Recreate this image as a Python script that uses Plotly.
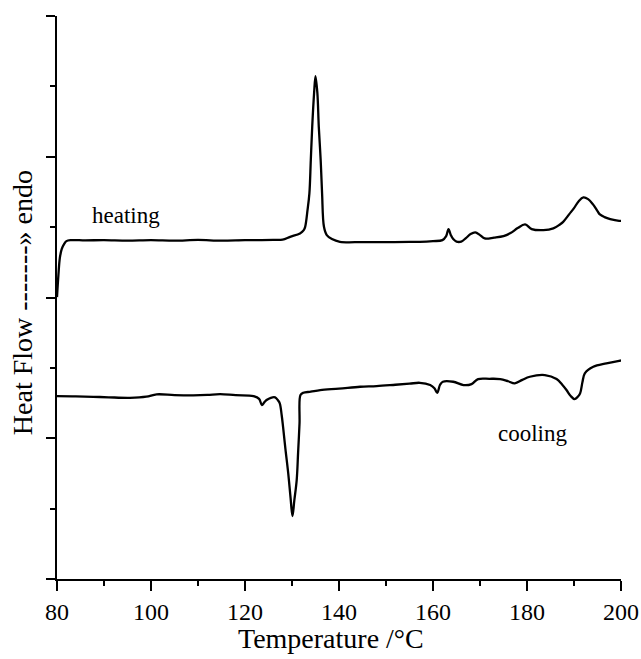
import plotly.graph_objects as go

# Heating scan (temperature in °C, heat flow in arbitrary units, endo up)
heat_T = [80.0, 80.3, 80.6, 81.0, 81.5, 82.0, 83, 86, 90, 95, 100, 105, 110, 115, 120, 123.2,
          126, 128, 129.6, 131.7, 132.5, 132.8, 133.3, 133.7, 134.0, 134.3, 134.7, 135.0,
          135.4, 135.7, 136.1, 136.4, 136.8, 137.4, 138.5, 140.2, 145, 150, 155, 157.2, 160,
          162, 162.8, 163.3, 163.8, 164.3, 165, 166, 167, 168, 169, 170, 171, 173, 175, 176.5,
          178, 179.6, 181, 183.5, 185.6, 187, 187.7, 189, 190, 191, 192, 193, 194, 195, 195.5,
          196.5, 197.7, 199.6, 200]
heat_Q = [4.006, 4.318, 4.560, 4.688, 4.759, 4.801, 4.815, 4.812, 4.815, 4.808, 4.815, 4.808,
          4.818, 4.808, 4.815, 4.815, 4.818, 4.822, 4.862, 4.910, 4.957, 5.004, 5.241, 5.479,
          5.952, 6.425, 6.903, 7.145, 6.903, 6.425, 5.952, 5.479, 5.004, 4.886, 4.830, 4.791,
          4.787, 4.787, 4.790, 4.791, 4.801, 4.815, 4.872, 4.972, 4.886, 4.830, 4.794, 4.794,
          4.844, 4.901, 4.925, 4.886, 4.839, 4.851, 4.872, 4.915, 4.986, 5.038, 4.972, 4.957,
          4.982, 5.038, 5.075, 5.185, 5.270, 5.369, 5.422, 5.398, 5.327, 5.227, 5.180, 5.142,
          5.114, 5.090, 5.090]

# Cooling scan
cool_T = [80, 84, 87.7, 91, 95.5, 99, 101.2, 105, 109, 112, 114.7, 118, 121.8, 123, 123.6,
          124.1, 124.6, 125.5, 126.4, 127.0, 127.4, 127.8, 128.1, 128.6, 129.2, 129.7, 130.1,
          130.5, 131.0, 131.3, 131.6, 131.8, 132.4, 134, 136, 140, 144.5, 148, 152, 155, 157.2,
          159.4, 160.3, 160.9, 161.5, 162.1, 164.3, 166.5, 168.2, 169.6, 172, 174.3, 176, 177.4,
          179, 180.6, 183.8, 186.3, 187.5, 188.4, 189.3, 190.1, 190.8, 191.3, 191.8, 192.3,
          194.1, 196.9, 199.6, 200]
cool_Q = [2.599, 2.596, 2.589, 2.582, 2.575, 2.590, 2.624, 2.613, 2.609, 2.615, 2.628, 2.612,
          2.599, 2.560, 2.472, 2.510, 2.543, 2.575, 2.581, 2.540, 2.496, 2.330, 2.163, 1.850,
          1.501, 1.150, 0.895, 1.120, 1.406, 1.800, 2.212, 2.614, 2.646, 2.662, 2.685, 2.705,
          2.732, 2.740, 2.760, 2.775, 2.788, 2.756, 2.710, 2.646, 2.760, 2.803, 2.803, 2.756,
          2.770, 2.841, 2.845, 2.841, 2.810, 2.780, 2.830, 2.874, 2.898, 2.841, 2.760, 2.685,
          2.600, 2.557, 2.590, 2.638, 2.800, 2.922, 3.016, 3.064, 3.101, 3.105]

x_ticks = [80, 100, 120, 140, 160, 180, 200]

FONT = "Liberation Serif, Times New Roman, serif"

fig = go.Figure()
fig.add_trace(go.Scatter(x=heat_T, y=heat_Q, mode="lines",
                         line=dict(color="black", width=2.3), line_shape="spline",
                         showlegend=False))
fig.add_trace(go.Scatter(x=cool_T, y=cool_Q, mode="lines",
                         line=dict(color="black", width=2.3), line_shape="spline",
                         showlegend=False))

fig.add_annotation(x=94.7, y=5.17, text="heating", showarrow=False,
                   font=dict(family=FONT, size=23, color="black"))
fig.add_annotation(x=181.1, y=2.07, text="cooling", showarrow=False,
                   font=dict(family=FONT, size=23, color="black"))

# axis titles as annotations for exact placement
fig.add_annotation(xref="paper", yref="paper", x=-0.062, y=0.49, xanchor="center",
                   yanchor="middle", textangle=-90, showarrow=False,
                   text="Heat Flow -------» endo",
                   font=dict(family=FONT, size=28, color="black"))
fig.add_annotation(xref="paper", yref="paper", x=0.485, y=-0.105, xanchor="center",
                   yanchor="middle", showarrow=False, text="Temperature /°C",
                   font=dict(family=FONT, size=28, color="black"))

fig.update_layout(
    width=641, height=659,
    margin=dict(l=57, r=20, t=16, b=80, autoexpand=False),
    paper_bgcolor="white", plot_bgcolor="white",
    xaxis=dict(range=[80, 200], tickvals=x_ticks, ticktext=[str(v) for v in x_ticks],
               ticks="outside", ticklen=10, tickwidth=1.5, tickcolor="black",
               showline=True, linecolor="black", linewidth=2, showgrid=False, zeroline=False,
               automargin=False,
               minor=dict(dtick=10, tick0=80, ticks="outside", ticklen=5, tickwidth=1.5,
                          tickcolor="black", showgrid=False),
               tickfont=dict(family=FONT, size=24, color="black")),
    yaxis=dict(range=[0, 8], dtick=2, tick0=0, showticklabels=False, automargin=False,
               ticks="outside", ticklen=9, tickwidth=1.5, tickcolor="black",
               showline=True, linecolor="black", linewidth=2, showgrid=False, zeroline=False,
               minor=dict(dtick=1, tick0=0, ticks="outside", ticklen=5, tickwidth=1.5,
                          tickcolor="black", showgrid=False)),
)

fig.write_html("out.html", config={"displayModeBar": False},
               post_script="document.body.style.margin='0px';"
                           "document.body.style.overflow='hidden';")
